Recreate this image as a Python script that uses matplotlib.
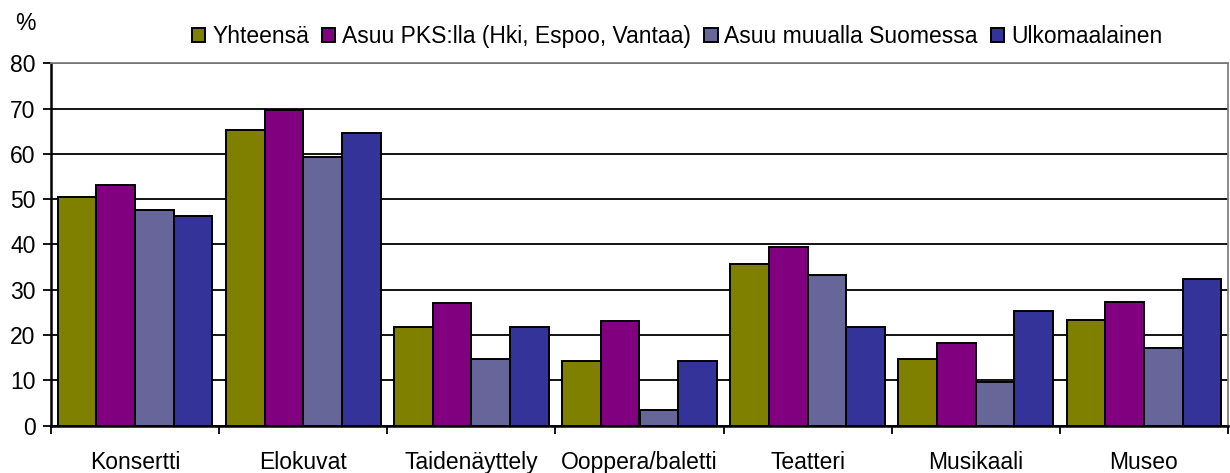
import matplotlib
matplotlib.use("Agg")
import matplotlib.pyplot as plt
import numpy as np

categories = ["Konsertti", "Elokuvat", "Taidenäyttely", "Ooppera/baletti", "Teatteri", "Musikaali", "Museo"]
series_names = ["Yhteensä", "Asuu PKS:lla (Hki, Espoo, Vantaa)", "Asuu muualla Suomessa", "Ulkomaalainen"]
yhteensa = [50.4, 65.4, 21.7, 14.2, 35.8, 14.7, 23.4]
pks = [53.1, 69.8, 27.0, 23.1, 39.4, 18.2, 27.4]
muualla = [47.7, 59.3, 14.7, 3.5, 33.2, 9.6, 17.2]
ulkomaalainen = [46.4, 64.6, 21.7, 14.2, 21.7, 25.3, 32.3]
colors = ["#808000", "#800080", "#666699", "#333399"]
yticks = [0, 10, 20, 30, 40, 50, 60, 70, 80]

plt.rcParams['font.family'] = ['Liberation Sans', 'DejaVu Sans']
FS = 16.5

fig = plt.figure(figsize=(12.3, 4.73), dpi=100)
L, R, T, B = 51, 1228, 63.5, 425.5
ax = fig.add_axes([L/1230, 1-B/473, (R-L)/1230, (B-T)/473])

data = [yhteensa, pks, muualla, ulkomaalainen]
x = np.arange(len(categories))
w = 0.23
for i, (vals, name, c) in enumerate(zip(data, series_names, colors)):
    ax.bar(x + (i - 1.5) * w, vals, width=w, color=c, edgecolor="black",
           linewidth=1.4, label=name, zorder=3)

ax.set_xlim(-0.5, len(categories) - 0.5)
ax.set_ylim(0, 80)
ax.set_yticks(yticks)
ax.yaxis.grid(True, color="black", linewidth=1.3, zorder=0)
ax.set_axisbelow(True)
ax.tick_params(axis="y", labelsize=FS, length=6, width=1.3, pad=5, direction="out")

ax.set_xticks(np.arange(len(categories) + 1) - 0.5)
ax.set_xticklabels([])
ax.set_xticks(x, minor=True)
ax.set_xticklabels(categories, minor=True, fontsize=FS)
ax.tick_params(axis="x", which="major", length=6, width=1.3, direction="out")
ax.tick_params(axis="x", which="minor", length=0, pad=18)

for s in ["left", "bottom"]:
    ax.spines[s].set_color("black")
    ax.spines[s].set_linewidth(1.8)
for s in ["top", "right"]:
    ax.spines[s].set_color("#808080")
    ax.spines[s].set_linewidth(1.3)

fig.text(25/1230, 1-23/473, "%", fontsize=FS, ha="center", va="center")

leg = fig.legend(loc="center", bbox_to_anchor=(677/1230, 1-36.5/473), ncol=4, frameon=False,
                 fontsize=FS, handlelength=0.6, handleheight=0.6, handletextpad=0.3,
                 columnspacing=0.55, borderpad=0)
for h in leg.legend_handles:
    h.set_linewidth(1.4)

fig.savefig("out.png", dpi=100)
